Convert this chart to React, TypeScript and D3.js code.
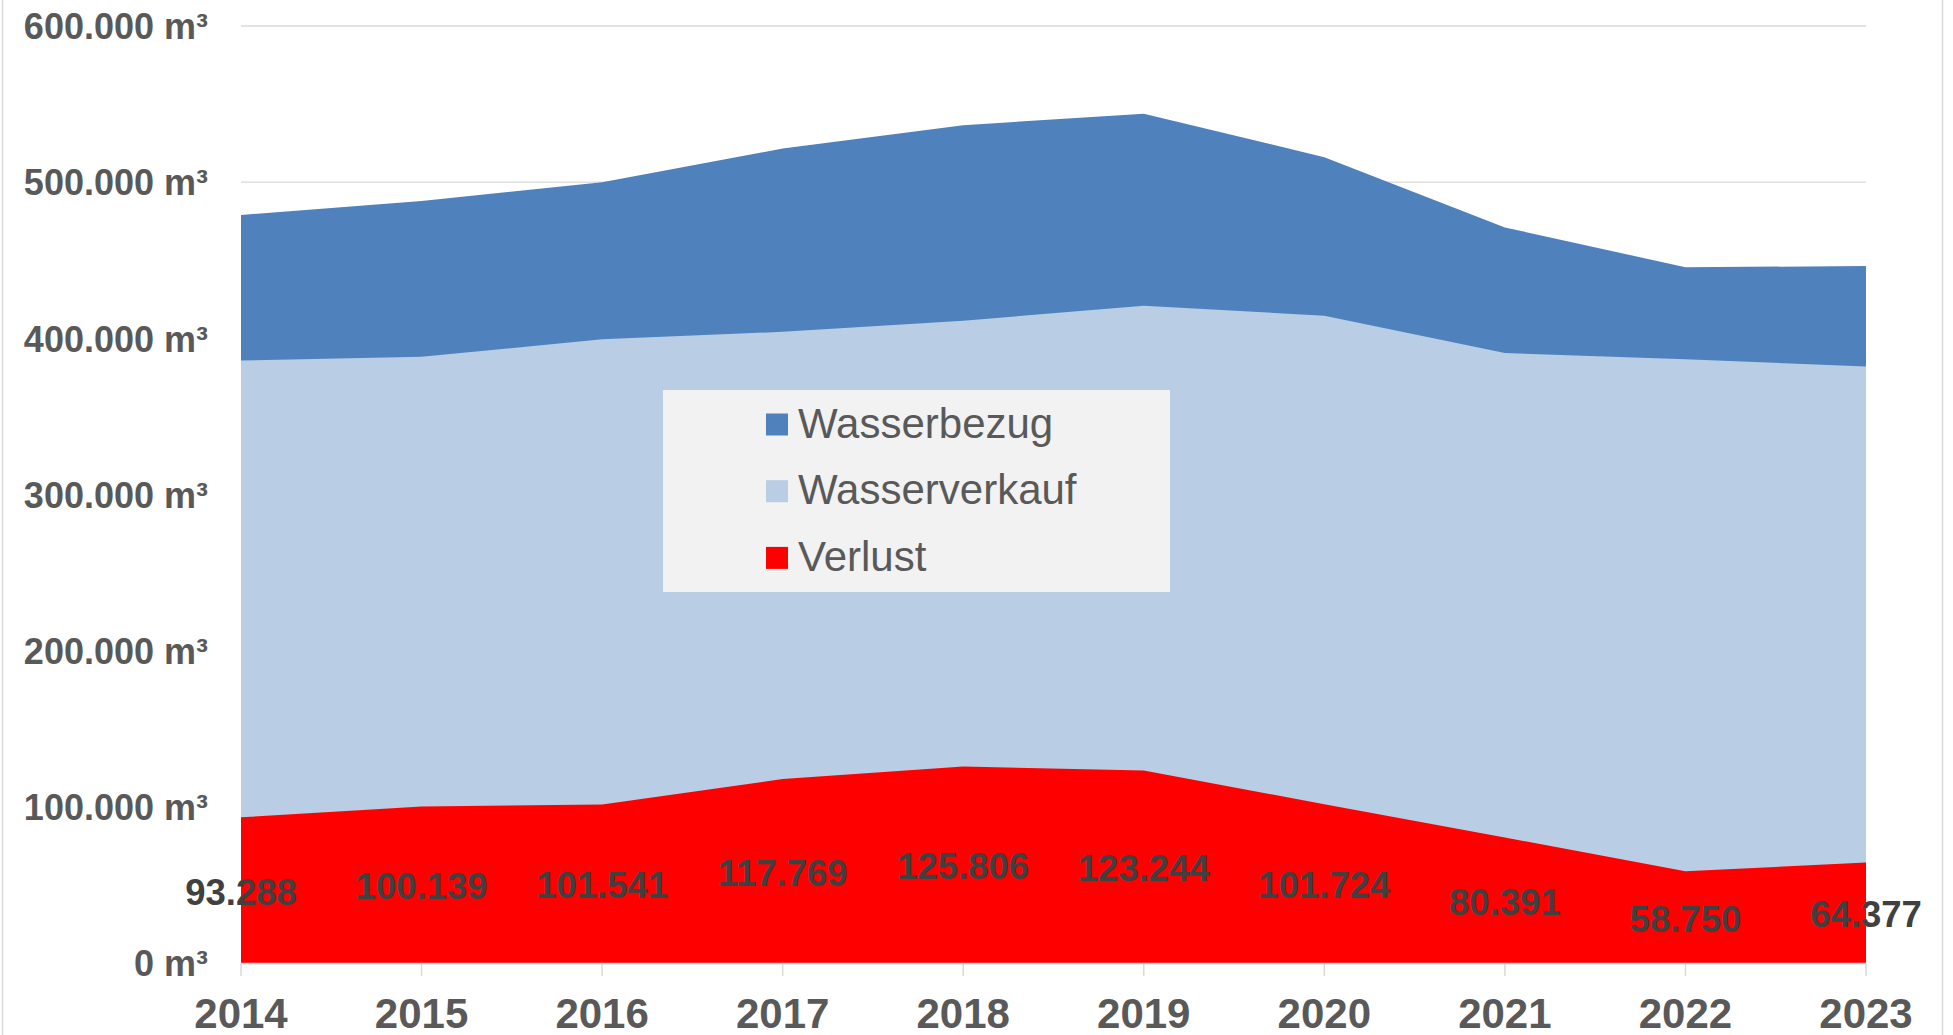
import { useRef, useEffect } from "react";
import * as d3 from "d3";

const years = ["2014", "2015", "2016", "2017", "2018", "2019", "2020", "2021", "2022", "2023"];
const wasserbezug = [479000, 488000, 500000, 521500, 536500, 543800, 516000, 471000, 445500, 446300];
const wasserverkauf = [385800, 388200, 399400, 404200, 411300, 420900, 414500, 390600, 386600, 381900];
const verlust = [93288, 100139, 101541, 117769, 125806, 123244, 101724, 80391, 58750, 64377];
const yTicks = [0, 100000, 200000, 300000, 400000, 500000, 600000];

const seriesList = [
  { name: "Wasserbezug", values: wasserbezug, color: "#4f81bd" },
  { name: "Wasserverkauf", values: wasserverkauf, color: "#b9cde5" },
  { name: "Verlust", values: verlust, color: "#ff0000" },
];

const width = 1953;
const height = 1035;

export default function App() {
  const root = useRef<SVGSVGElement>(null);

  useEffect(() => {
    const svg = d3.select(root.current);
    svg.selectAll("*").remove();

    const de = d3.formatLocale({ decimal: ",", thousands: ".", grouping: [3], currency: ["", " €"] });
    const fmt = de.format(",d");

    const x = d3.scalePoint<string>().domain(years).range([241, 1866]);
    const y = d3.scaleLinear().domain([0, 600000]).range([963, 26]);

    // outer chart border (only sides show)
    svg.append("line").attr("x1", 2.5).attr("x2", 2.5).attr("y1", 0).attr("y2", height)
      .attr("stroke", "#d9d9d9").attr("stroke-width", 1.5);
    svg.append("line").attr("x1", 1942.5).attr("x2", 1942.5).attr("y1", 0).attr("y2", height)
      .attr("stroke", "#d9d9d9").attr("stroke-width", 1.5);

    // gridlines
    svg.append("g").selectAll("line")
      .data(yTicks.filter(d => d > 0))
      .enter().append("line")
      .attr("x1", x("2014")!).attr("x2", x("2023")!)
      .attr("y1", d => y(d)).attr("y2", d => y(d))
      .attr("stroke", "#d9d9d9").attr("stroke-width", 1.3);

    // y labels
    svg.append("g").selectAll("text")
      .data(yTicks)
      .enter().append("text")
      .attr("x", 208).attr("y", d => y(d)).attr("dy", "0.37em")
      .attr("text-anchor", "end")
      .attr("font-family", "Liberation Sans, Arial, sans-serif")
      .attr("font-weight", "bold").attr("font-size", 36).attr("fill", "#595959")
      .text(d => fmt(d) + " m³");

    // areas, not stacked, drawn back to front
    const area = d3.area<number>()
      .x((d, i) => x(years[i])!)
      .y0(y(0))
      .y1(d => y(d));
    svg.append("g").selectAll("path")
      .data(seriesList)
      .enter().append("path")
      .attr("d", d => area(d.values))
      .attr("fill", d => d.color);

    // x axis
    svg.append("line").attr("x1", x("2014")!).attr("x2", x("2023")!)
      .attr("y1", y(0) + 0.5).attr("y2", y(0) + 0.5)
      .attr("stroke", "#d9d9d9").attr("stroke-width", 1.5);
    svg.append("g").selectAll("line")
      .data(years)
      .enter().append("line")
      .attr("x1", d => x(d)!).attr("x2", d => x(d)!)
      .attr("y1", y(0)).attr("y2", y(0) + 13)
      .attr("stroke", "#d9d9d9").attr("stroke-width", 1.5);
    svg.append("g").selectAll("text")
      .data(years)
      .enter().append("text")
      .attr("x", d => x(d)!).attr("y", 1028)
      .attr("text-anchor", "middle")
      .attr("font-family", "Liberation Sans, Arial, sans-serif")
      .attr("font-weight", "bold").attr("font-size", 42).attr("fill", "#595959")
      .text(d => d);

    // data labels for Verlust
    svg.append("g").selectAll("text")
      .data(verlust)
      .enter().append("text")
      .attr("x", (d, i) => x(years[i])!)
      .attr("y", d => y(d / 2)).attr("dy", "0.4em")
      .attr("text-anchor", "middle")
      .attr("font-family", "Liberation Sans, Arial, sans-serif")
      .attr("font-weight", "bold").attr("font-size", 36.5).attr("fill", "#404040")
      .text(d => fmt(d));

    // legend
    const legend = svg.append("g");
    legend.append("rect").attr("x", 663).attr("y", 390).attr("width", 507).attr("height", 202)
      .attr("fill", "#f2f2f2");
    const items = legend.selectAll("g.item")
      .data(seriesList)
      .enter().append("g")
      .attr("class", "item")
      .attr("transform", (d, i) => "translate(766," + (413.5 + i * 66.7) + ")");
    items.append("rect").attr("width", 22).attr("height", 22).attr("fill", d => d.color);
    items.append("text")
      .attr("x", 32).attr("y", 24)
      .attr("font-family", "Liberation Sans, Arial, sans-serif")
      .attr("font-size", 42).attr("fill", "#595959")
      .text(d => d.name);
  }, []);

  return (
    <svg
      ref={root}
      width={width}
      height={height}
      style={{ position: "absolute", left: 0, top: 0, background: "#fff", display: "block" }}
    />
  );
}
